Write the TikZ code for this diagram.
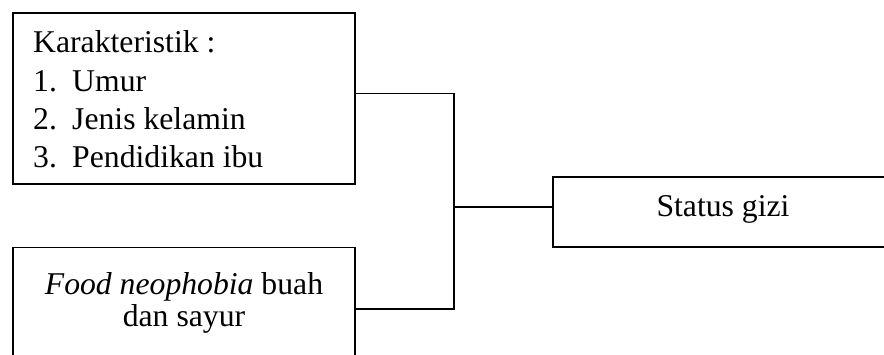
\documentclass[tikz,border=0pt]{standalone}
\usepackage{fontspec}
\setmainfont{Liberation Serif}
\begin{document}
\begin{tikzpicture}[x=1pt,y=-1pt,
  boxshape/.style={draw,line width=1.6pt,inner sep=0pt,minimum width=#1},
  link/.style={line width=1.3pt},
  txt/.style={inner sep=0pt,font=\fontsize{31.7}{38}\selectfont}]
\useasboundingbox (0,0) rectangle (884,355);
\clip (0,0) rectangle (884,355);
\fill[white] (0,0) rectangle (884,355);
% boxes
\node[boxshape=342pt,minimum height=171pt] (b1) at (184,98.5) {};
\node[boxshape=342pt,minimum height=145pt] (b2) at (184,320) {};
\node[boxshape=354pt,minimum height=70pt] (b3) at (730,212) {};
% texts
\node[txt,anchor=base west] (t1) at (33,53) {Karakteristik :};
\node[txt,anchor=base west] (t2n) at (33,92) {1.};
\node[txt,anchor=base west] (t2) at (72,92) {Umur};
\node[txt,anchor=base west] (t3n) at (33,130) {2.};
\node[txt,anchor=base west] (t3) at (72,130) {Jenis kelamin};
\node[txt,anchor=base west] (t4n) at (33,168) {3.};
\node[txt,anchor=base west] (t4) at (72,168) {Pendidikan ibu};
\node[txt,anchor=base] (t5) at (184,295) {\textit{Food neophobia} buah};
\node[txt,anchor=base] (t6) at (184,327) {dan sayur};
\node[txt,anchor=base] (t7) at (723,217) {Status gizi};
% connectors
\coordinate (j) at (454,207);
\coordinate (jt) at (454,93.5);
\coordinate (jb) at (454,309);
\draw[link] (b1.east |- jt) -- (jt) -- (jb) -- (b2.east |- jb);
\draw[link] (j) -- (b3.west |- j);
\end{tikzpicture}
\end{document}
